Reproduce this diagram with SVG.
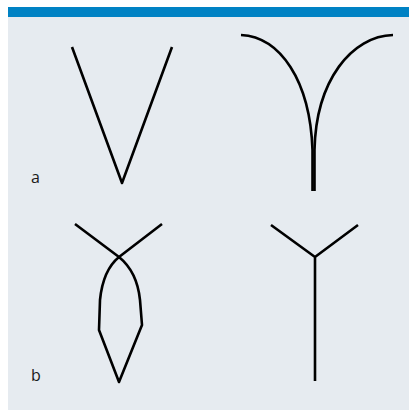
<svg xmlns="http://www.w3.org/2000/svg" width="409" height="410" viewBox="0 0 409 410">
<style>
.ln{fill:none;stroke:#000;stroke-width:2.6;stroke-linecap:butt;stroke-linejoin:round}
.lbl{font-family:"Open Sans","Noto Sans",sans-serif;font-size:16px;fill:#1a1a1a}
</style>
<rect x="0" y="0" width="409" height="410" fill="#fff"/>
<rect x="8" y="17" width="401" height="393" fill="#e6ebf0"/>
<rect x="8" y="7" width="401" height="10" fill="#0082c4"/>
<g id="fig-a-left">
<path class="ln" d="M72,47 L122,183 L172,47"/>
</g>
<g id="fig-a-right">
<path class="ln" d="M241,35 C280,37 310,80 312.5,150 L312.5,191"/>
<path class="ln" d="M393,35 C352,36 316,80 314.5,150 L314.5,191"/>
</g>
<g id="fig-b-left">
<path class="ln" d="M75,224 L119,257 C130,266 138,280 140,300 L142,325 L119,382 L99,330 L100,300 C102,280 108,266 119,257 L162,224"/>
</g>
<g id="fig-b-right">
<path class="ln" d="M271,225 L315,257 L358,225 M315,257 L315,381"/>
</g>
<text class="lbl" x="31" y="183">a</text>
<text class="lbl" x="31" y="381">b</text>
</svg>
